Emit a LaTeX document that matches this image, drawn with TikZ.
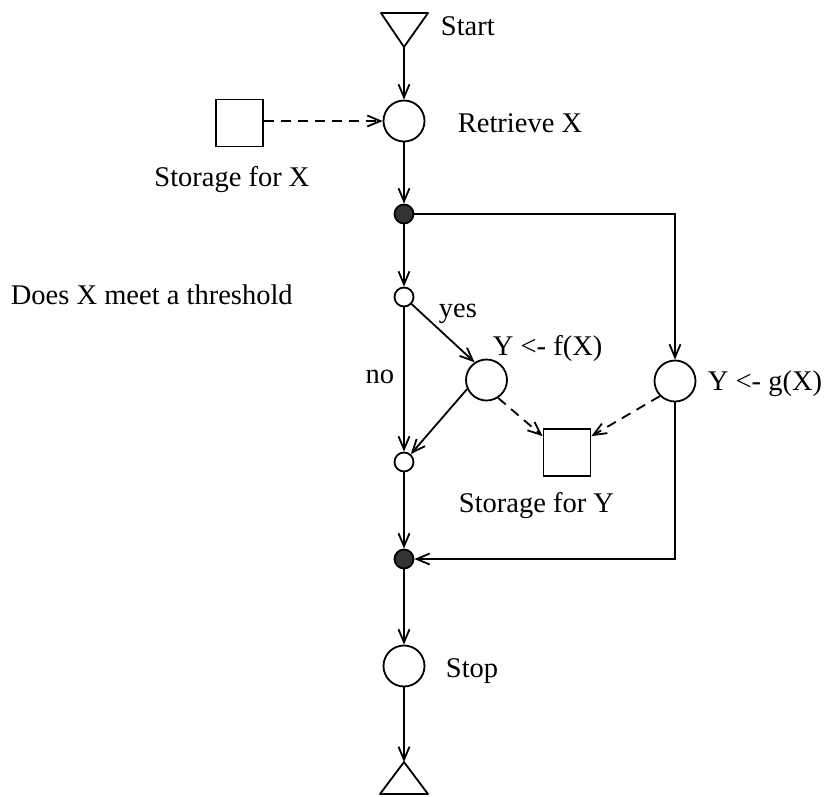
\documentclass[tikz,border=0pt]{standalone}
\usepackage{fontspec}
\setmainfont{Liberation Serif}
\usetikzlibrary{arrows.meta}
\begin{document}
\begin{tikzpicture}[x=1pt,y=-1pt, line width=1.8pt,
  every node/.style={font=\fontsize{28.5}{33}\selectfont},
  bigc/.style={circle, draw, minimum size=41pt, inner sep=0pt},
  smallc/.style={circle, draw, minimum size=19pt, inner sep=0pt},
  dotc/.style={circle, draw, fill=black!80, minimum size=19pt, inner sep=0pt},
  store/.style={draw, minimum width=47pt, minimum height=47pt, inner sep=0pt},
  flow/.style={-{Straight Barb[length=13pt,width=11pt]}},
  dflow/.style={flow, dash pattern=on 10pt off 7pt},
  lbl/.style={anchor=base west, inner sep=0pt}]
\useasboundingbox (0,0) rectangle (830,796);
% start / end triangles
\draw[line join=round] (381,13) -- (428,13) -- (404,47) -- cycle;
\coordinate (sapex) at (404,47);
\draw[line join=round] (380,794) -- (404,762) -- (428,794) -- cycle;
\coordinate (eapex) at (404,762);
% nodes
\node[bigc] (rx) at (404,121) {};
\node[store] (sx) at (239.5,123) {};
\node[dotc] (d1) at (404,214) {};
\node[smallc] (t1) at (404,297) {};
\node[bigc] (fc) at (486.5,380) {};
\node[bigc] (gc) at (675,381) {};
\node[store] (sy) at (567,452.5) {};
\node[smallc] (t2) at (404,462) {};
\node[dotc] (d2) at (404,559) {};
\node[bigc] (stop) at (404,666) {};
% connectors
\draw[flow] (sapex) -- (rx);
\draw[dflow] (sx.east |- rx) -- (rx);
\draw[flow] (rx) -- (d1);
\draw[flow] (d1) -- (t1);
\draw[flow] (d1) -| (gc);
\draw[flow] (t1) -- (fc.124);
\draw[flow] (t1) -- (t2);
\draw[flow] (fc.205) -- (t2);
\draw[dflow] (fc.-57) -- ([yshift=-8pt]sy.north west);
\draw[dflow] (gc.225) -- ([yshift=-8pt]sy.north east);
\draw[flow] (gc) |- (d2);
\draw[flow] (t2) -- (d2);
\draw[flow] (d2) -- (stop);
\draw[flow] (stop) -- (eapex);
% labels
\node[lbl] (tstart) at (440,35) {Start};
\node[lbl] (tret) at (457,132) {Retrieve X};
\node[lbl, anchor=base] (tsx) at (232,186) {Storage for X};
\node[lbl] (tdoes) at (10,304) {Does X meet a threshold};
\node[lbl] (tyes) at (438,317) {yes};
\node[lbl] (tf) at (492,355) {Y <- f(X)};
\node[lbl, anchor=base east] (tno) at (395,383) {no};
\node[lbl] (tg) at (707,390) {Y <- g(X)};
\node[lbl] (tsy) at (458,512) {Storage for Y};
\node[lbl] (tstop) at (445,677) {Stop};
\end{tikzpicture}
\end{document}
